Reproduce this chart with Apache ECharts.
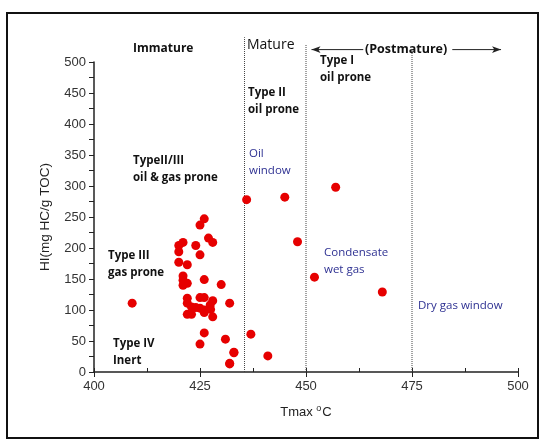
<!DOCTYPE html>
<html><head><meta charset="utf-8">
<script src="https://cdn.jsdelivr.net/npm/echarts@6/dist/echarts.min.js"></script>
<style>html,body{margin:0;padding:0;background:#fff}#c{width:542px;height:439px}</style>
</head><body><div id="c"></div>
<script>
// Tmax (°C) and HI (mg HC/g TOC) samples
const tmax = [409,436,445,457,448,452,468,437,441,433,432,
  426,425,427,428,421,420,424,420,425,420,422,421,421,422,421,426,430,
  422,425,426,428,432,422,423,424,425,426,427.4,427.5,422,423,426,428,
  426,431,425,433,432];
const hi = [111,278,282,298,210,153,129,61,26,32,14,
  247,237,216,209,209,204,204,194,189,177,173,155,148,143,140,149,141,
  119,120,120,115,111,111,105,104,103,100,108,101,93,93,96,89,
  63,53,45,31,13];
const xTicks = [400,425,450,475,500];
const yTicks = [0,50,100,150,200,250,300,350,400,450,500];
const zoneBounds = [435.5, 450, 475];
const zoneTop = [540, 528, 522];
const arrowY = 520;
const arrowLeft = [451.3, 463.5];
const arrowRight = [484.5, 496];

const pts = tmax.map((t,i)=>[t,hi[i]]);
const chart = echarts.init(document.getElementById('c'));
const bold = {fontFamily:'Open Sans', fontWeight:'bold', fontSize:11.5, fill:'#111', lineHeight:17};
const navy = {fontFamily:'Open Sans', fontSize:11.5, fill:'#2e3192', lineHeight:17};
function txt(x,y,t,st){return {type:'text', left:x, top:y, style:Object.assign({text:t}, st)};}

const series = [{
  type:'scatter', data:pts, symbolSize:9, itemStyle:{color:'#e60000', opacity:1}, z:5
}];
zoneBounds.forEach((b,i)=>{
  series.push({type:'line', data:[[b,0],[b,zoneTop[i]]], symbol:'none', clip:false,
    lineStyle:{color:'#444', width:1, type:[1,1]}, silent:true});
});
series.push({type:'line', clip:false, showSymbol:true, silent:true,
  data:[{value:[arrowLeft[0],arrowY], symbol:'arrow', symbolSize:[5,9], symbolRotate:90},
        {value:[arrowLeft[1],arrowY], symbol:'none'}],
  lineStyle:{color:'#222',width:1}, itemStyle:{color:'#222'}});
series.push({type:'line', clip:false, showSymbol:true, silent:true,
  data:[{value:[arrowRight[0],arrowY], symbol:'none'},
        {value:[arrowRight[1],arrowY], symbol:'arrow', symbolSize:[5,9], symbolRotate:-90}],
  lineStyle:{color:'#222',width:1}, itemStyle:{color:'#222'}});

chart.setOption({
  animation:false,
  grid:{left:94, top:62, width:424, height:310},
  xAxis:[{
    type:'value', min:400, max:500, interval:25,
    name:'Tmax {s|o}C', nameLocation:'middle', nameGap:32,
    nameTextStyle:{fontFamily:'Liberation Sans', fontSize:13, color:'#222', rich:{s:{fontSize:9, verticalAlign:'top', padding:[0,1,8,0], color:'#222'}}},
    axisLine:{lineStyle:{color:'#222', width:1.5}},
    axisTick:{length:5, lineStyle:{color:'#222'}},
    minorTick:{show:false},
    splitLine:{show:false},
    axisLabel:{fontFamily:'Liberation Sans', fontSize:13, color:'#333', margin:8}
  },{
    type:'value', min:400, max:500, interval:12.5, position:'bottom',
    axisLine:{show:false}, axisTick:{inside:true, length:4, lineStyle:{color:'#222'}},
    axisLabel:{show:false}, splitLine:{show:false}
  }],
  yAxis:{
    type:'value', min:0, max:500, interval:50,
    name:'HI(mg HC/g TOC)', nameLocation:'middle', nameGap:42, nameRotate:90,
    nameTextStyle:{fontFamily:'Liberation Sans', fontSize:13.5, color:'#222'},
    axisLine:{show:true, lineStyle:{color:'#222', width:1.5}},
    axisTick:{show:true, length:5, lineStyle:{color:'#222'}},
    minorTick:{show:true, splitNumber:2, length:5, lineStyle:{color:'#222'}},
    splitLine:{show:false},
    axisLabel:{fontFamily:'Liberation Sans', fontSize:13, color:'#333', margin:8}
  },
  series:series,
  graphic:[
    {type:'rect', shape:{x:7, y:13, width:531, height:425}, style:{fill:'none', stroke:'#111', lineWidth:2}, silent:true},
    txt(133,40,'Immature',Object.assign({},bold,{fontSize:12})),
    txt(247,38,'Mature',{fontFamily:'Open Sans', fontSize:14, fill:'#111'}),
    txt(365,41,'(Postmature)',Object.assign({},bold,{fontSize:12.5})),
    txt(320,52,'Type I\noil prone',bold),
    txt(248,84,'Type II\noil prone',bold),
    txt(249,145,'Oil\nwindow',navy),
    txt(133,152,'TypeII/III\noil & gas prone',bold),
    txt(108,247,'Type III\ngas prone',bold),
    txt(324,244,'Condensate\nwet gas',navy),
    txt(418,297,'Dry gas window',navy),
    txt(113,335,'Type IV\nInert',bold)
  ]
});
</script></body></html>
